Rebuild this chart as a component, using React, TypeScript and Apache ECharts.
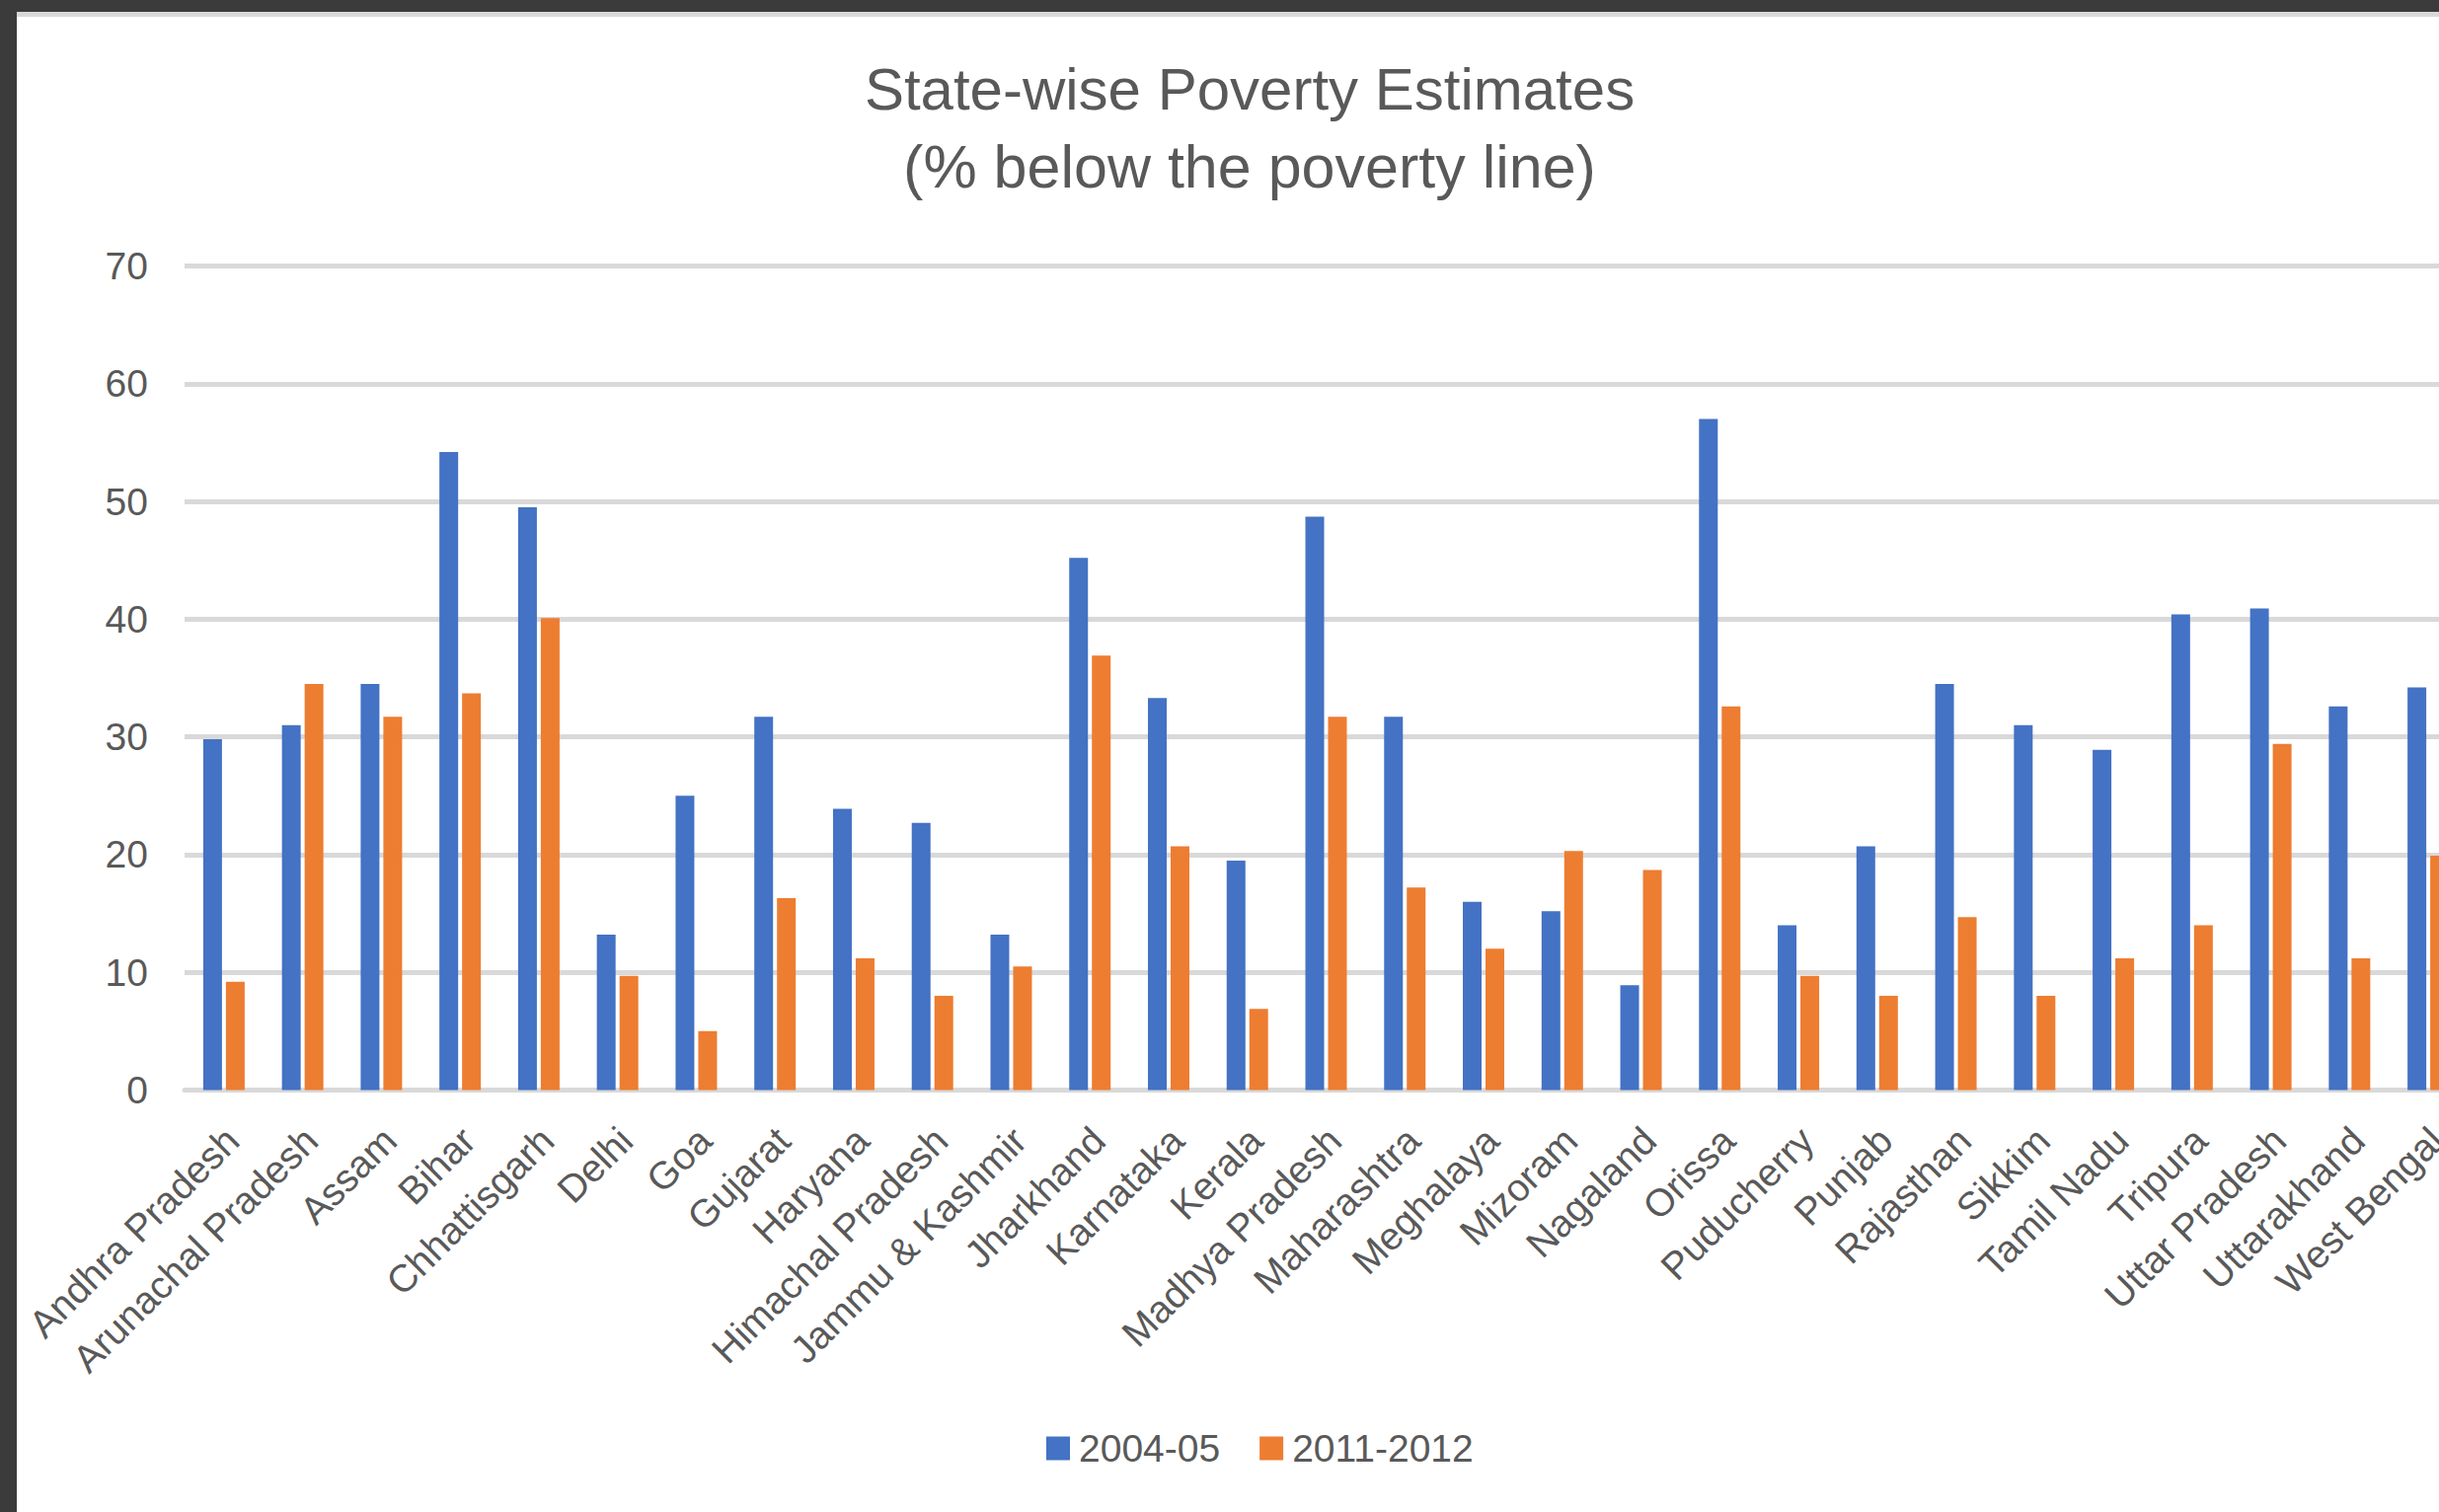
import React, { useEffect, useRef } from "react";
import * as echarts from "echarts";

const states = [
  "Andhra Pradesh", "Arunachal Pradesh", "Assam", "Bihar", "Chhattisgarh", "Delhi", "Goa",
  "Gujarat", "Haryana", "Himachal Pradesh", "Jammu & Kashmir", "Jharkhand", "Karnataka",
  "Kerala", "Madhya Pradesh", "Maharashtra", "Meghalaya", "Mizoram", "Nagaland", "Orissa",
  "Puducherry", "Punjab", "Rajasthan", "Sikkim", "Tamil Nadu", "Tripura", "Uttar Pradesh",
  "Uttarakhand", "West Bengal",
];
const poverty2004 = [
  29.8, 31.0, 34.5, 54.2, 49.5, 13.2, 25.0, 31.7, 23.9, 22.7, 13.2, 45.2, 33.3, 19.5, 48.7,
  31.7, 16.0, 15.2, 8.9, 57.0, 14.0, 20.7, 34.5, 31.0, 28.9, 40.4, 40.9, 32.6, 34.2,
];
const poverty2011 = [
  9.2, 34.5, 31.7, 33.7, 40.1, 9.7, 5.0, 16.3, 11.2, 8.0, 10.5, 36.9, 20.7, 6.9, 31.7,
  17.2, 12.0, 20.3, 18.7, 32.6, 9.7, 8.0, 14.7, 8.0, 11.2, 14.0, 29.4, 11.2, 19.9,
];
const seriesNames = ["2004-05", "2011-2012"];
const titleLines = ["State-wise Poverty Estimates", "(% below the poverty line)"];
const yMin = 0;
const yMax = 70;
const yStep = 10;

const FONT = "'Liberation Sans', Arial, sans-serif";
const TEXT = "#595959";
const GRID = "#d9d9d9";

export default function App() {
  const ref = useRef<HTMLDivElement>(null);
  useEffect(() => {
    if (!ref.current) return;
    const chart = echarts.init(ref.current, null, { renderer: "svg" });
    chart.setOption({
      animation: false,
      backgroundColor: "#ffffff",
      graphic: [
        { type: "rect", shape: { x: 0, y: 0, width: 2471, height: 12 }, style: { fill: "#3b3b3b" }, z: 100 },
        { type: "rect", shape: { x: 17, y: 12, width: 2454, height: 5 }, style: { fill: GRID }, z: 100 },
        { type: "rect", shape: { x: 0, y: 0, width: 17, height: 1532 }, style: { fill: "#3b3b3b" }, z: 100 },
        {
          type: "text", x: 1266, y: 90, z: 50,
          style: { text: titleLines[0], font: `60px ${FONT}`, fill: TEXT, align: "center", verticalAlign: "middle" },
        },
        {
          type: "text", x: 1266, y: 169, z: 50,
          style: { text: titleLines[1], font: `61px ${FONT}`, fill: TEXT, align: "center", verticalAlign: "middle" },
        },
      ],
      legend: {
        left: 1060,
        top: 1448,
        padding: 0,
        itemWidth: 24,
        itemHeight: 24,
        itemGap: 40,
        icon: "rect",
        textStyle: { fontFamily: FONT, fontSize: 39, color: TEXT, padding: [0, 0, 0, 4] },
        data: seriesNames,
      },
      grid: {
        left: 187,
        top: 269.5,
        width: 2313,
        height: 835,
        containLabel: false,
        outerBoundsMode: "none",
      },
      xAxis: {
        type: "category",
        data: states,
        axisLine: { show: true, lineStyle: { color: GRID, width: 5 } },
        axisTick: { show: false },
        axisLabel: {
          interval: 0,
          rotate: 45,
          margin: 36,
          verticalAlign: "top",
          lineHeight: 24,
          fontFamily: FONT,
          fontSize: 39,
          color: TEXT,
        },
      },
      yAxis: {
        type: "value",
        min: yMin,
        max: yMax,
        interval: yStep,
        axisLine: { show: false },
        axisTick: { show: false },
        splitLine: { show: true, lineStyle: { color: GRID, width: 5 } },
        axisLabel: { margin: 37, fontFamily: FONT, fontSize: 39, color: TEXT },
      },
      series: [
        {
          name: seriesNames[0],
          type: "bar",
          data: poverty2004,
          barWidth: 19,
          barGap: "21%",
          itemStyle: { color: "#4472c4" },
        },
        {
          name: seriesNames[1],
          type: "bar",
          data: poverty2011,
          barWidth: 19,
          barGap: "21%",
          itemStyle: { color: "#ed7d31" },
        },
      ],
    });
    return () => chart.dispose();
  }, []);
  return (
    <div style={{ position: "fixed", left: 0, top: 0, width: 2471, height: 1532, overflow: "hidden", background: "#fff" }}>
      <div ref={ref} style={{ width: 2471, height: 1532 }} />
    </div>
  );
}
